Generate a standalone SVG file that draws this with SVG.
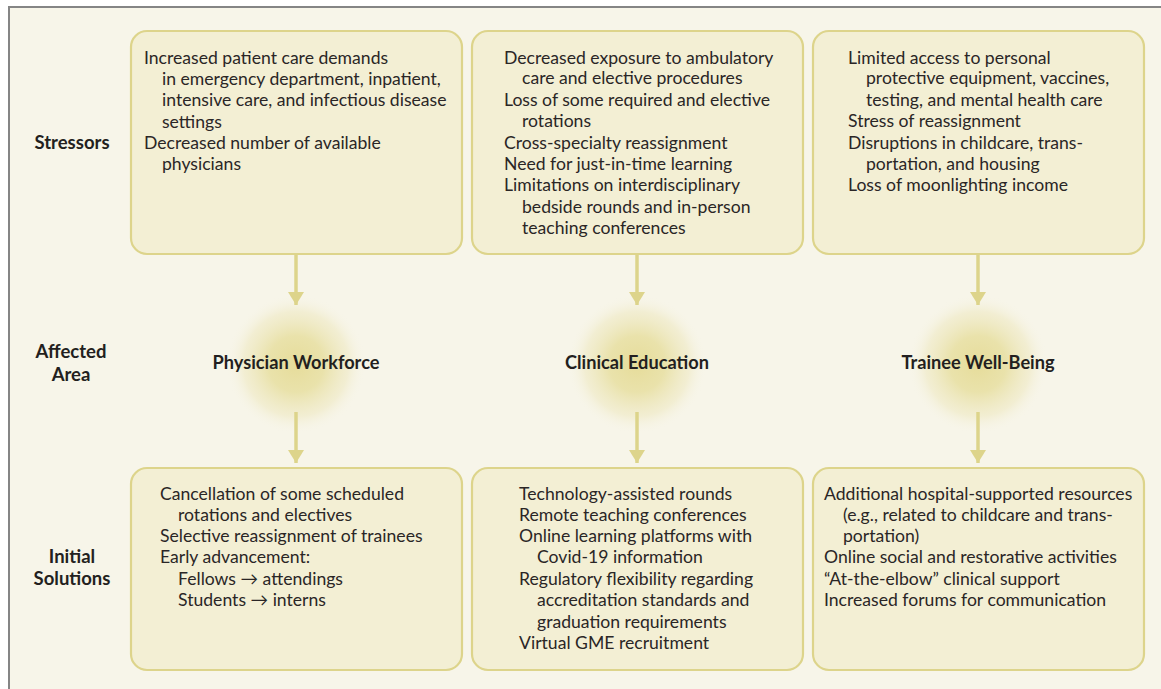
<svg xmlns="http://www.w3.org/2000/svg" width="1161" height="689" viewBox="0 0 1161 689">
  <defs>
    <radialGradient id="glow" cx="0.5" cy="0.5" r="0.5">
      <stop offset="0" stop-color="#e6dc9a" stop-opacity="1"/>
      <stop offset="0.4" stop-color="#e8e0a4" stop-opacity="0.9"/>
      <stop offset="0.75" stop-color="#eee8c0" stop-opacity="0.55"/>
      <stop offset="1" stop-color="#f7f5e9" stop-opacity="0"/>
    </radialGradient>
    <!-- arrowhead drawn along +x so orient="auto" turns it to the line direction -->
    <marker id="head" viewBox="0 0 13 16" refX="13" refY="8" markerWidth="13" markerHeight="16" markerUnits="userSpaceOnUse" orient="auto">
      <path d="M0,0 L13,8 L0,16 Z" fill="#ddd48b"/>
    </marker>
    <style>
      .box { fill: #f3efd4; stroke: #ddd48b; stroke-width: 2.2; }
      .body { font-family: Lato, "Open Sans", "Liberation Sans", sans-serif; font-size: 17.6px; fill: #2a2626; }
      .row { font-family: Lato, "Open Sans", "Liberation Sans", sans-serif; font-size: 18.5px; font-weight: bold; fill: #231f20; text-anchor: middle; }
      .area { font-family: Lato, "Open Sans", "Liberation Sans", sans-serif; font-size: 18.2px; font-weight: bold; fill: #231f20; text-anchor: middle; }
      .conn { stroke: #ddd48b; stroke-width: 3.5; fill: none; }
    </style>
  </defs>

  <!-- panel background and frame -->
  <rect x="0" y="0" width="1161" height="689" fill="#ffffff"/>
  <rect x="9" y="7" width="1152" height="682" fill="#f7f5e9"/>
  <line x1="8" y1="7" x2="1161" y2="7" stroke="#858585" stroke-width="2"/>
  <line x1="9" y1="6" x2="9" y2="689" stroke="#858585" stroke-width="2"/>

  <!-- row labels -->
  <g id="row-labels">
    <text class="row" x="72" y="149">Stressors</text>
    <text class="row" x="71" y="358">Affected</text>
    <text class="row" x="71" y="381">Area</text>
    <text class="row" x="72" y="563">Initial</text>
    <text class="row" x="72" y="585">Solutions</text>
  </g>

  <!-- affected-area glows sit underneath the connectors -->
  <g id="glows">
    <circle cx="296" cy="364" r="70" fill="url(#glow)"/>
    <circle cx="637" cy="364" r="70" fill="url(#glow)"/>
    <circle cx="978" cy="364" r="70" fill="url(#glow)"/>
  </g>

  <!-- connectors -->
  <g id="connectors">
    <line class="conn" x1="296" y1="254" x2="296" y2="305" marker-end="url(#head)"/>
    <line class="conn" x1="296" y1="412" x2="296" y2="463" marker-end="url(#head)"/>
    <line class="conn" x1="637" y1="254" x2="637" y2="305" marker-end="url(#head)"/>
    <line class="conn" x1="637" y1="412" x2="637" y2="463" marker-end="url(#head)"/>
    <line class="conn" x1="978" y1="254" x2="978" y2="305" marker-end="url(#head)"/>
    <line class="conn" x1="978" y1="412" x2="978" y2="463" marker-end="url(#head)"/>
  </g>

  <!-- stressor boxes -->
  <g id="stressors-workforce">
    <rect class="box" x="131" y="31" width="331" height="223" rx="16"/>
    <text class="body" x="144" y="64">Increased patient care demands</text>
    <text class="body" x="162" y="85">in emergency department, inpatient,</text>
    <text class="body" x="162" y="106">intensive care, and infectious disease</text>
    <text class="body" x="162" y="128">settings</text>
    <text class="body" x="144" y="149">Decreased number of available</text>
    <text class="body" x="162" y="170">physicians</text>
  </g>
  <g id="stressors-education">
    <rect class="box" x="472" y="31" width="331" height="223" rx="16"/>
    <text class="body" x="504" y="64">Decreased exposure to ambulatory</text>
    <text class="body" x="522" y="84">care and elective procedures</text>
    <text class="body" x="504" y="106">Loss of some required and elective</text>
    <text class="body" x="522" y="127">rotations</text>
    <text class="body" x="504" y="149">Cross-specialty reassignment</text>
    <text class="body" x="504" y="170">Need for just-in-time learning</text>
    <text class="body" x="504" y="191">Limitations on interdisciplinary</text>
    <text class="body" x="522" y="213">bedside rounds and in-person</text>
    <text class="body" x="522" y="234">teaching conferences</text>
  </g>
  <g id="stressors-wellbeing">
    <rect class="box" x="813" y="31" width="331" height="223" rx="16"/>
    <text class="body" x="848" y="64">Limited access to personal</text>
    <text class="body" x="866" y="84">protective equipment, vaccines,</text>
    <text class="body" x="866" y="106">testing, and mental health care</text>
    <text class="body" x="848" y="127">Stress of reassignment</text>
    <text class="body" x="848" y="149">Disruptions in childcare, trans-</text>
    <text class="body" x="866" y="170">portation, and housing</text>
    <text class="body" x="848" y="191">Loss of moonlighting income</text>
  </g>

  <!-- affected areas -->
  <g id="area-workforce">
    <text class="area" x="296" y="369">Physician Workforce</text>
  </g>
  <g id="area-education">
    <text class="area" x="637" y="369">Clinical Education</text>
  </g>
  <g id="area-wellbeing">
    <text class="area" x="978" y="369">Trainee Well-Being</text>
  </g>

  <!-- solution boxes -->
  <g id="solutions-workforce">
    <rect class="box" x="131" y="468" width="331" height="202" rx="16"/>
    <text class="body" x="160" y="500">Cancellation of some scheduled</text>
    <text class="body" x="178" y="521">rotations and electives</text>
    <text class="body" x="160" y="542">Selective reassignment of trainees</text>
    <text class="body" x="160" y="563">Early advancement:</text>
    <text class="body" x="178" y="585">Fellows → attendings</text>
    <text class="body" x="178" y="606">Students → interns</text>
  </g>
  <g id="solutions-education">
    <rect class="box" x="472" y="468" width="331" height="202" rx="16"/>
    <text class="body" x="519" y="500">Technology-assisted rounds</text>
    <text class="body" x="519" y="521">Remote teaching conferences</text>
    <text class="body" x="519" y="542">Online learning platforms with</text>
    <text class="body" x="537" y="563">Covid-19 information</text>
    <text class="body" x="519" y="585">Regulatory flexibility regarding</text>
    <text class="body" x="537" y="606">accreditation standards and</text>
    <text class="body" x="537" y="628">graduation requirements</text>
    <text class="body" x="519" y="649">Virtual GME recruitment</text>
  </g>
  <g id="solutions-wellbeing">
    <rect class="box" x="813" y="468" width="331" height="202" rx="16"/>
    <text class="body" x="824" y="500">Additional hospital-supported resources</text>
    <text class="body" x="843" y="521">(e.g., related to childcare and trans-</text>
    <text class="body" x="843" y="542">portation)</text>
    <text class="body" x="824" y="563">Online social and restorative activities</text>
    <text class="body" x="824" y="585">“At-the-elbow” clinical support</text>
    <text class="body" x="824" y="606">Increased forums for communication</text>
  </g>
</svg>
